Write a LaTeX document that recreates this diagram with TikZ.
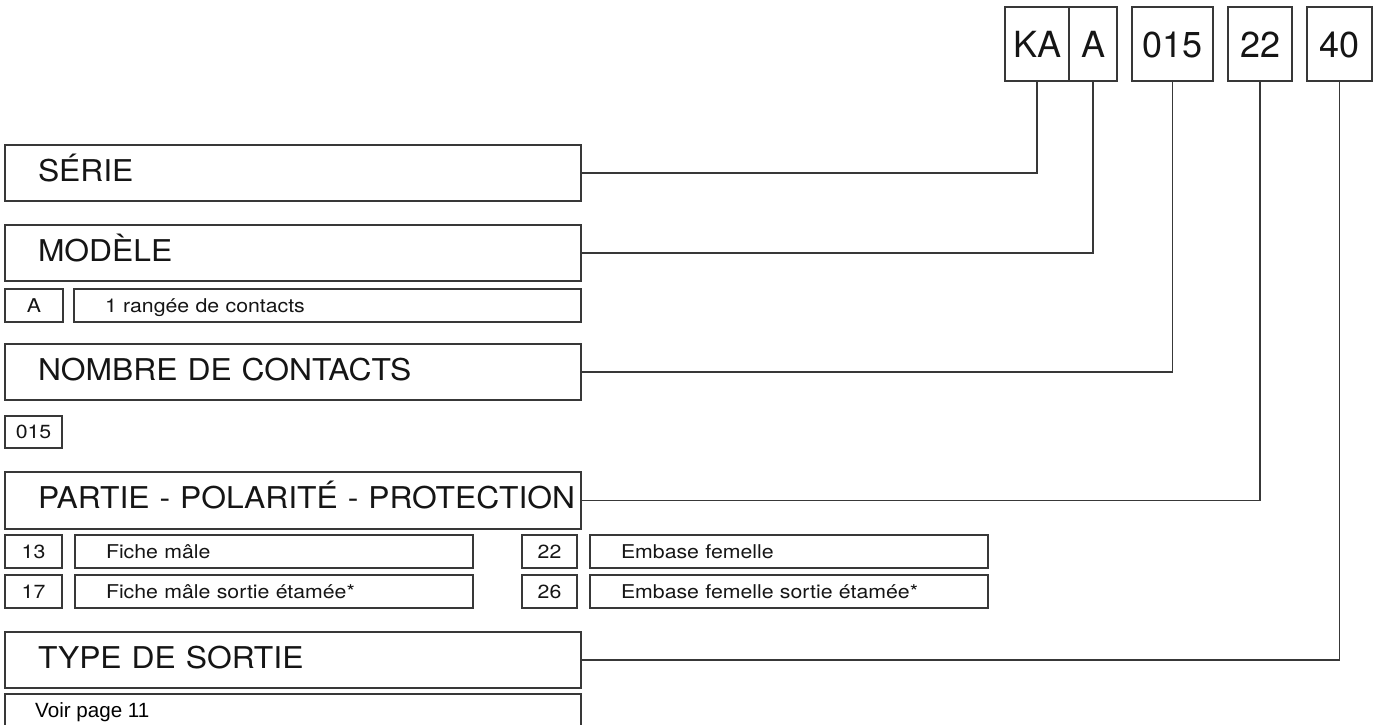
\documentclass[tikz,border=0pt]{standalone}
\usepackage{fontspec}
\setmainfont{TeX Gyre Heros}
\newfontfamily\bigf[FakeStretch=1.06]{TeX Gyre Heros}
\newfontfamily\smf[FakeStretch=1.12]{TeX Gyre Heros}
\newfontfamily\voirf{Liberation Sans}
\definecolor{lc}{HTML}{383838}
\definecolor{tc}{HTML}{151515}
\begin{document}
\begin{tikzpicture}[x=1pt,y=-1pt,
  base/.style={draw=lc, line width=1.9pt, outer sep=0pt, inner ysep=0pt, anchor=north west, text=tc},
  bigbox/.style={base, minimum height=56pt, inner xsep=3pt, text width=570pt, align=left,
    font=\bigf\fontsize{30}{31}\selectfont, text height=21.8pt, text depth=5.5pt},
  topbox/.style={base, minimum height=74pt, inner xsep=0pt, align=center,
    font=\fontsize{36}{37}\selectfont, text height=26pt, text depth=0pt},
  codebox/.style={base, minimum height=33pt, inner xsep=0pt, align=center,
    font=\smf\fontsize{19}{20}\selectfont, text height=13.5pt, text depth=0pt},
  descbox/.style={base, minimum height=33pt, inner xsep=31pt, align=left,
    font=\smf\fontsize{19}{20}\selectfont, text height=13.5pt, text depth=0pt},
  conn/.style={draw=lc, line width=1.9pt}
]
\useasboundingbox (0,0) rectangle (1380,724);
\clip (0,0) rectangle (1380,724);
\fill[white] (0,0) rectangle (1380,724);

% top code boxes
\node[topbox, minimum width=64pt] (ka) at (1005,7) {KA};
\node[topbox, minimum width=48pt] (a) at (1069,7) {A};
\node[topbox, minimum width=81pt] (n015) at (1132,7) {015};
\node[topbox, minimum width=64pt] (p22) at (1228,7) {22};
\node[topbox, minimum width=65pt] (t40) at (1307,7) {40};

% main category boxes
\node[bigbox] (serie) at (5,145) {\hspace*{30pt}SÉRIE};
\node[bigbox] (modele) at (5,225) {\hspace*{30pt}MODÈLE};
\node[bigbox] (nombre) at (5,344) {\hspace*{30pt}NOMBRE DE CONTACTS};
\node[bigbox, minimum height=57pt] (partie) at (5,472) {\hspace*{30pt}PARTIE - POLARITÉ - PROTECTION};
\node[bigbox] (type) at (5,632) {\hspace*{30pt}TYPE DE SORTIE};

% option rows
\node[codebox, minimum width=58pt] (cA) at (5,289) {A};
\node[descbox, text width=445pt] (dA) at (74,289) {1 rangée de contacts};
\node[codebox, minimum width=57pt, minimum height=32pt] (c015) at (5,416) {015};

\node[codebox, minimum width=57pt] (c13) at (5,535) {13};
\node[descbox, text width=336pt] (d13) at (75,535) {Fiche mâle};
\node[codebox, minimum width=57pt] (c17) at (5,575) {17};
\node[descbox, text width=336pt] (d17) at (75,575) {Fiche mâle sortie étamée*};
\node[codebox, minimum width=55pt] (c22) at (522,535) {22};
\node[descbox, text width=336pt] (d22) at (590,535) {Embase femelle};
\node[codebox, minimum width=55pt] (c26) at (522,575) {26};
\node[descbox, text width=336pt] (d26) at (590,575) {Embase femelle sortie étamée*};

\node[base, minimum width=576pt, minimum height=60pt, inner sep=0pt] (voir) at (5,694) {};
\node[fill=white, inner xsep=2pt, inner ysep=0pt, anchor=base west, text=black,
  text height=19pt, text depth=9pt, font=\voirf\fontsize{20.6}{21}\selectfont] (voirt) at (33,717) {Voir page 11};

% connectors
\draw[conn] (ka.south) |- (serie.east);
\draw[conn] (a.south) |- (modele.east);
\draw[conn] (n015.south) |- (nombre.east);
\draw[conn] (p22.south) |- (partie.east);
\draw[conn] (t40.south) |- (type.east);
\end{tikzpicture}
\end{document}
